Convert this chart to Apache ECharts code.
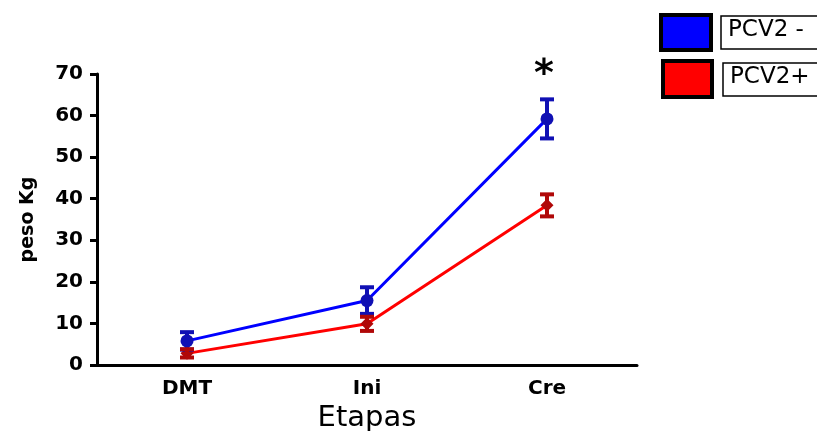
<!DOCTYPE html>
<html>
<head>
<meta charset="utf-8">
<script src="https://cdn.jsdelivr.net/npm/echarts@6/dist/echarts.min.js"></script>
<style>
  html, body { margin: 0; padding: 0; background: #fff; }
  #chart { width: 817px; height: 431px; }
</style>
</head>
<body>
<div id="chart"></div>
<script>
  // etapas
  let categories = ['DMT', 'Ini', 'Cre'];
  let yTicks = [0, 10, 20, 30, 40, 50, 60, 70];
  // PCV2 - (azul)
  let negMean = [5.8, 15.5, 59.2];
  let negErr = [2.1, 3.2, 4.7];
  // PCV2+ (rojo)
  let posMean = [2.8, 9.9, 38.4];
  let posErr = [1.0, 1.7, 2.65];

  let chart = echarts.init(document.getElementById('chart'));

  function errData(mean, err) {
    return mean.map(function (m, i) { return [i, m - err[i], m + err[i]]; });
  }

  function errSeries(name, mean, err, color) {
    return {
      name: name + ' err',
      type: 'custom',
      z: 5,
      data: errData(mean, err),
      renderItem: function (params, api) {
        let x = api.coord([api.value(0), 0])[0];
        let lo = api.coord([api.value(0), api.value(1)])[1];
        let hi = api.coord([api.value(0), api.value(2)])[1];
        let w = 7;
        let st = { stroke: color, lineWidth: 4 };
        return {
          type: 'group',
          children: [
            { type: 'line', shape: { x1: x, y1: lo, x2: x, y2: hi }, style: st },
            { type: 'line', shape: { x1: x - w, y1: lo, x2: x + w, y2: lo }, style: st },
            { type: 'line', shape: { x1: x - w, y1: hi, x2: x + w, y2: hi }, style: st }
          ]
        };
      }
    };
  }

  let option = {
    animation: false,
    grid: { left: 97, right: 180, top: 74, bottom: 66, containLabel: false, outerBoundsMode: 'none' },
    xAxis: {
      type: 'category',
      data: categories,
      boundaryGap: true,
      name: 'Etapas',
      nameLocation: 'middle',
      nameGap: 38,
      nameTextStyle: { fontFamily: 'DejaVu Sans', fontSize: 29, color: '#000' },
      axisLine: { lineStyle: { color: '#000', width: 3 } },
      axisTick: { alignWithLabel: true, length: 7, lineStyle: { color: '#000', width: 3 } },
      axisLabel: { fontFamily: 'DejaVu Sans', fontWeight: 'bold', fontSize: 20, color: '#000', margin: 14 }
    },
    yAxis: {
      type: 'value',
      min: yTicks[0],
      max: yTicks[yTicks.length - 1],
      interval: 10,
      name: 'peso Kg',
      nameLocation: 'middle',
      nameGap: 59,
      nameTextStyle: { fontFamily: 'DejaVu Sans', fontWeight: 'bold', fontSize: 19, color: '#000' },
      axisLine: { show: true, lineStyle: { color: '#000', width: 3 } },
      axisTick: { show: true, length: 7, lineStyle: { color: '#000', width: 3 } },
      axisLabel: { fontFamily: 'DejaVu Sans', fontWeight: 'bold', fontSize: 20, color: '#000', margin: 14 },
      splitLine: { show: false }
    },
    graphic: [
      { type: 'text', left: 534, top: 56, style: { text: '*', font: 'bold 38px DejaVu Sans', fill: '#000' } },
      { type: 'rect', shape: { x: 661, y: 15, width: 50, height: 35 }, style: { fill: '#0000ff', stroke: '#000', lineWidth: 4 } },
      { type: 'rect', shape: { x: 721, y: 16, width: 110, height: 33 }, style: { fill: '#fff', stroke: '#000', lineWidth: 1.5 } },
      { type: 'text', left: 728, top: 19, style: { text: 'PCV2 -', font: '23px DejaVu Sans', fill: '#000' } },
      { type: 'rect', shape: { x: 663, y: 61, width: 49, height: 36 }, style: { fill: '#ff0000', stroke: '#000', lineWidth: 4 } },
      { type: 'rect', shape: { x: 723, y: 63, width: 110, height: 33 }, style: { fill: '#fff', stroke: '#000', lineWidth: 1.5 } },
      { type: 'text', left: 730, top: 66, style: { text: 'PCV2+', font: '23px DejaVu Sans', fill: '#000' } }
    ],
    series: [
      {
        name: 'PCV2 -',
        type: 'line',
        data: negMean,
        z: 4,
        symbol: 'circle',
        symbolSize: 13,
        lineStyle: { color: '#0000ff', width: 3 },
        itemStyle: { color: '#1010b4' }
      },
      errSeries('PCV2 -', negMean, negErr, '#1010b4'),
      {
        name: 'PCV2+',
        type: 'line',
        data: posMean,
        z: 3,
        symbol: 'diamond',
        symbolSize: 13,
        lineStyle: { color: '#ff0000', width: 3 },
        itemStyle: { color: '#b00808' }
      },
      errSeries('PCV2+', posMean, posErr, '#b00808')
    ]
  };

  chart.setOption(option);
</script>
</body>
</html>
